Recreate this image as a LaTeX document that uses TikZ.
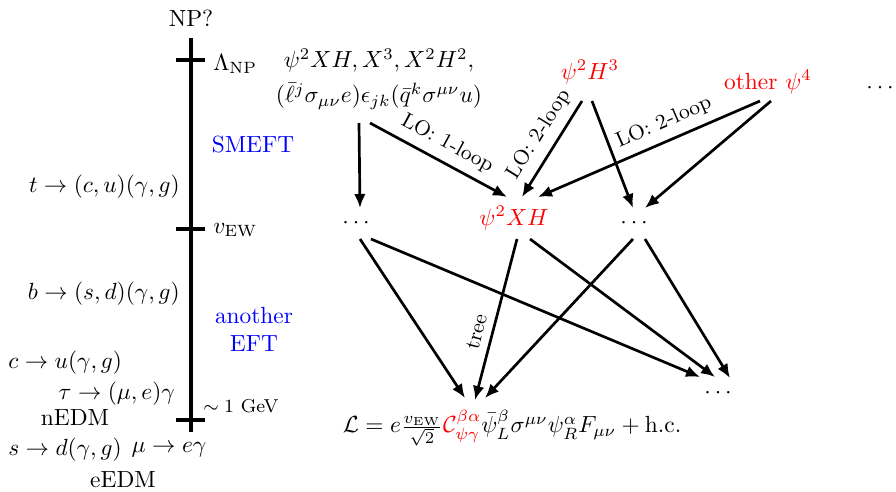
\documentclass[tikz,border=0pt]{standalone}
\usepackage{amsmath,amssymb}
\usepackage{tikz}
\usetikzlibrary{arrows.meta,positioning,calc}
\tikzset{
  flow/.style={line width=1.15pt,arrows={-Latex[length=6pt,width=5pt]}},
  scale line/.style={line width=1.3pt},
  lo/.style={font=\small},
  op/.style={text=red},
  eft/.style={text=blue,align=center},
}
\begin{document}
\begin{tikzpicture}[x=0.01505cm,y=-0.01505cm]
  \useasboundingbox (0,0) rectangle (896,491);
  % energy axis
  \node (np) at (191,18) {NP?};
  \draw[scale line] (191,38) -- (191,432);
  \foreach \y in {60,229,420} \draw[scale line] (176,\y) -- (205,\y);
  \node[anchor=west] (lnp) at (205,64) {$\Lambda_\text{NP}$};
  \node[anchor=west] (vew) at (205,230) {$v_\text{EW}$};
  \node[anchor=west,font=\footnotesize] (gev) at (195,406) {$\sim 1$ GeV};
  \node[eft] (smeft) at (253,145) {SMEFT};
  \node[eft] (left) at (254,329) {another\\EFT};
  % processes
  \node[anchor=east] (tc) at (188,187) {$t\to(c,u)(\gamma,g)$};
  \node[anchor=east] (bs) at (188,294) {$b\to(s,d)(\gamma,g)$};
  \node[anchor=west] (cu) at (0,363) {$c\to u(\gamma,g)$};
  \node[anchor=east] (tau) at (183,394) {$\tau\to(\mu,e)\gamma$};
  \node (nedm) at (75,418) {nEDM};
  \node[anchor=west] (sd) at (0,450) {$s\to d(\gamma,g)$};
  \node (mu) at (169,450) {$\mu\to e\gamma$};
  \node (eedm) at (123,480) {eEDM};
  % operators
  \node[align=center] (ops) at (379,79) {$\psi^2XH, X^3, X^2H^2,$\\[3pt]$(\bar\ell^j\sigma_{\mu\nu}e)\epsilon_{jk}(\bar q^k\sigma^{\mu\nu}u)$};
  \node[op] (h3) at (590,72) {$\psi^2H^3$};
  \node[op] (o4) at (768,82) {other $\psi^4$};
  \node (dtr) at (882,88) {$\cdots$};
  \node (dl) at (358,223) {$\cdots$};
  \node[op] (xh) at (514,218) {$\psi^2XH$};
  \node (dr) at (636,223) {$\cdots$};
  \node (db) at (720,393) {$\cdots$};
  \node (lag) at (512,428) {$\mathcal{L}=e\frac{v_\text{EW}}{\sqrt2}\textcolor{red}{\mathcal{C}^{\beta\alpha}_{\psi\gamma}}\bar\psi^\beta_L\sigma^{\mu\nu}\psi^\alpha_RF_{\mu\nu}+\text{h.c.}$};
  % mixing
  \draw[flow] ($(ops)+(-20,44)$) -- ($(dl)+(2,-15)$);
  \draw[flow] ($(ops)+(-9,44)$) -- node[lo,midway,sloped,above] {LO: 1-loop} ($(xh)+(-7,-21)$);
  \draw[flow] ($(h3)+(-8,29)$) -- node[lo,pos=0.45,sloped,above] {LO: 2-loop} ($(xh)+(8,-21)$);
  \draw[flow] ($(h3)+(2,29)$) -- ($(dr)+(-3,-15)$);
  \draw[flow] ($(o4)+(-8,19)$) -- node[lo,pos=0.4,sloped,above] {LO: 2-loop} ($(xh)+(24,-21)$);
  \draw[flow] ($(o4)+(3,19)$) -- ($(dr)+(9,-15)$);
  \draw[flow] ($(dl)+(2,16)$) -- ($(lag)+(-47,-30)$);
  \draw[flow] ($(dl)+(13,16)$) -- ($(db)+(-20,-16)$);
  \draw[flow] ($(xh)+(3,21)$) -- node[lo,pos=0.6,sloped,above] {tree} ($(lag)+(-37,-28)$);
  \draw[flow] ($(xh)+(16,21)$) -- ($(db)+(-5,-16)$);
  \draw[flow] ($(dr)+(-3,16)$) -- ($(lag)+(-27,-30)$);
  \draw[flow] ($(dr)+(9,16)$) -- ($(db)+(10,-15)$);
\end{tikzpicture}
\end{document}
